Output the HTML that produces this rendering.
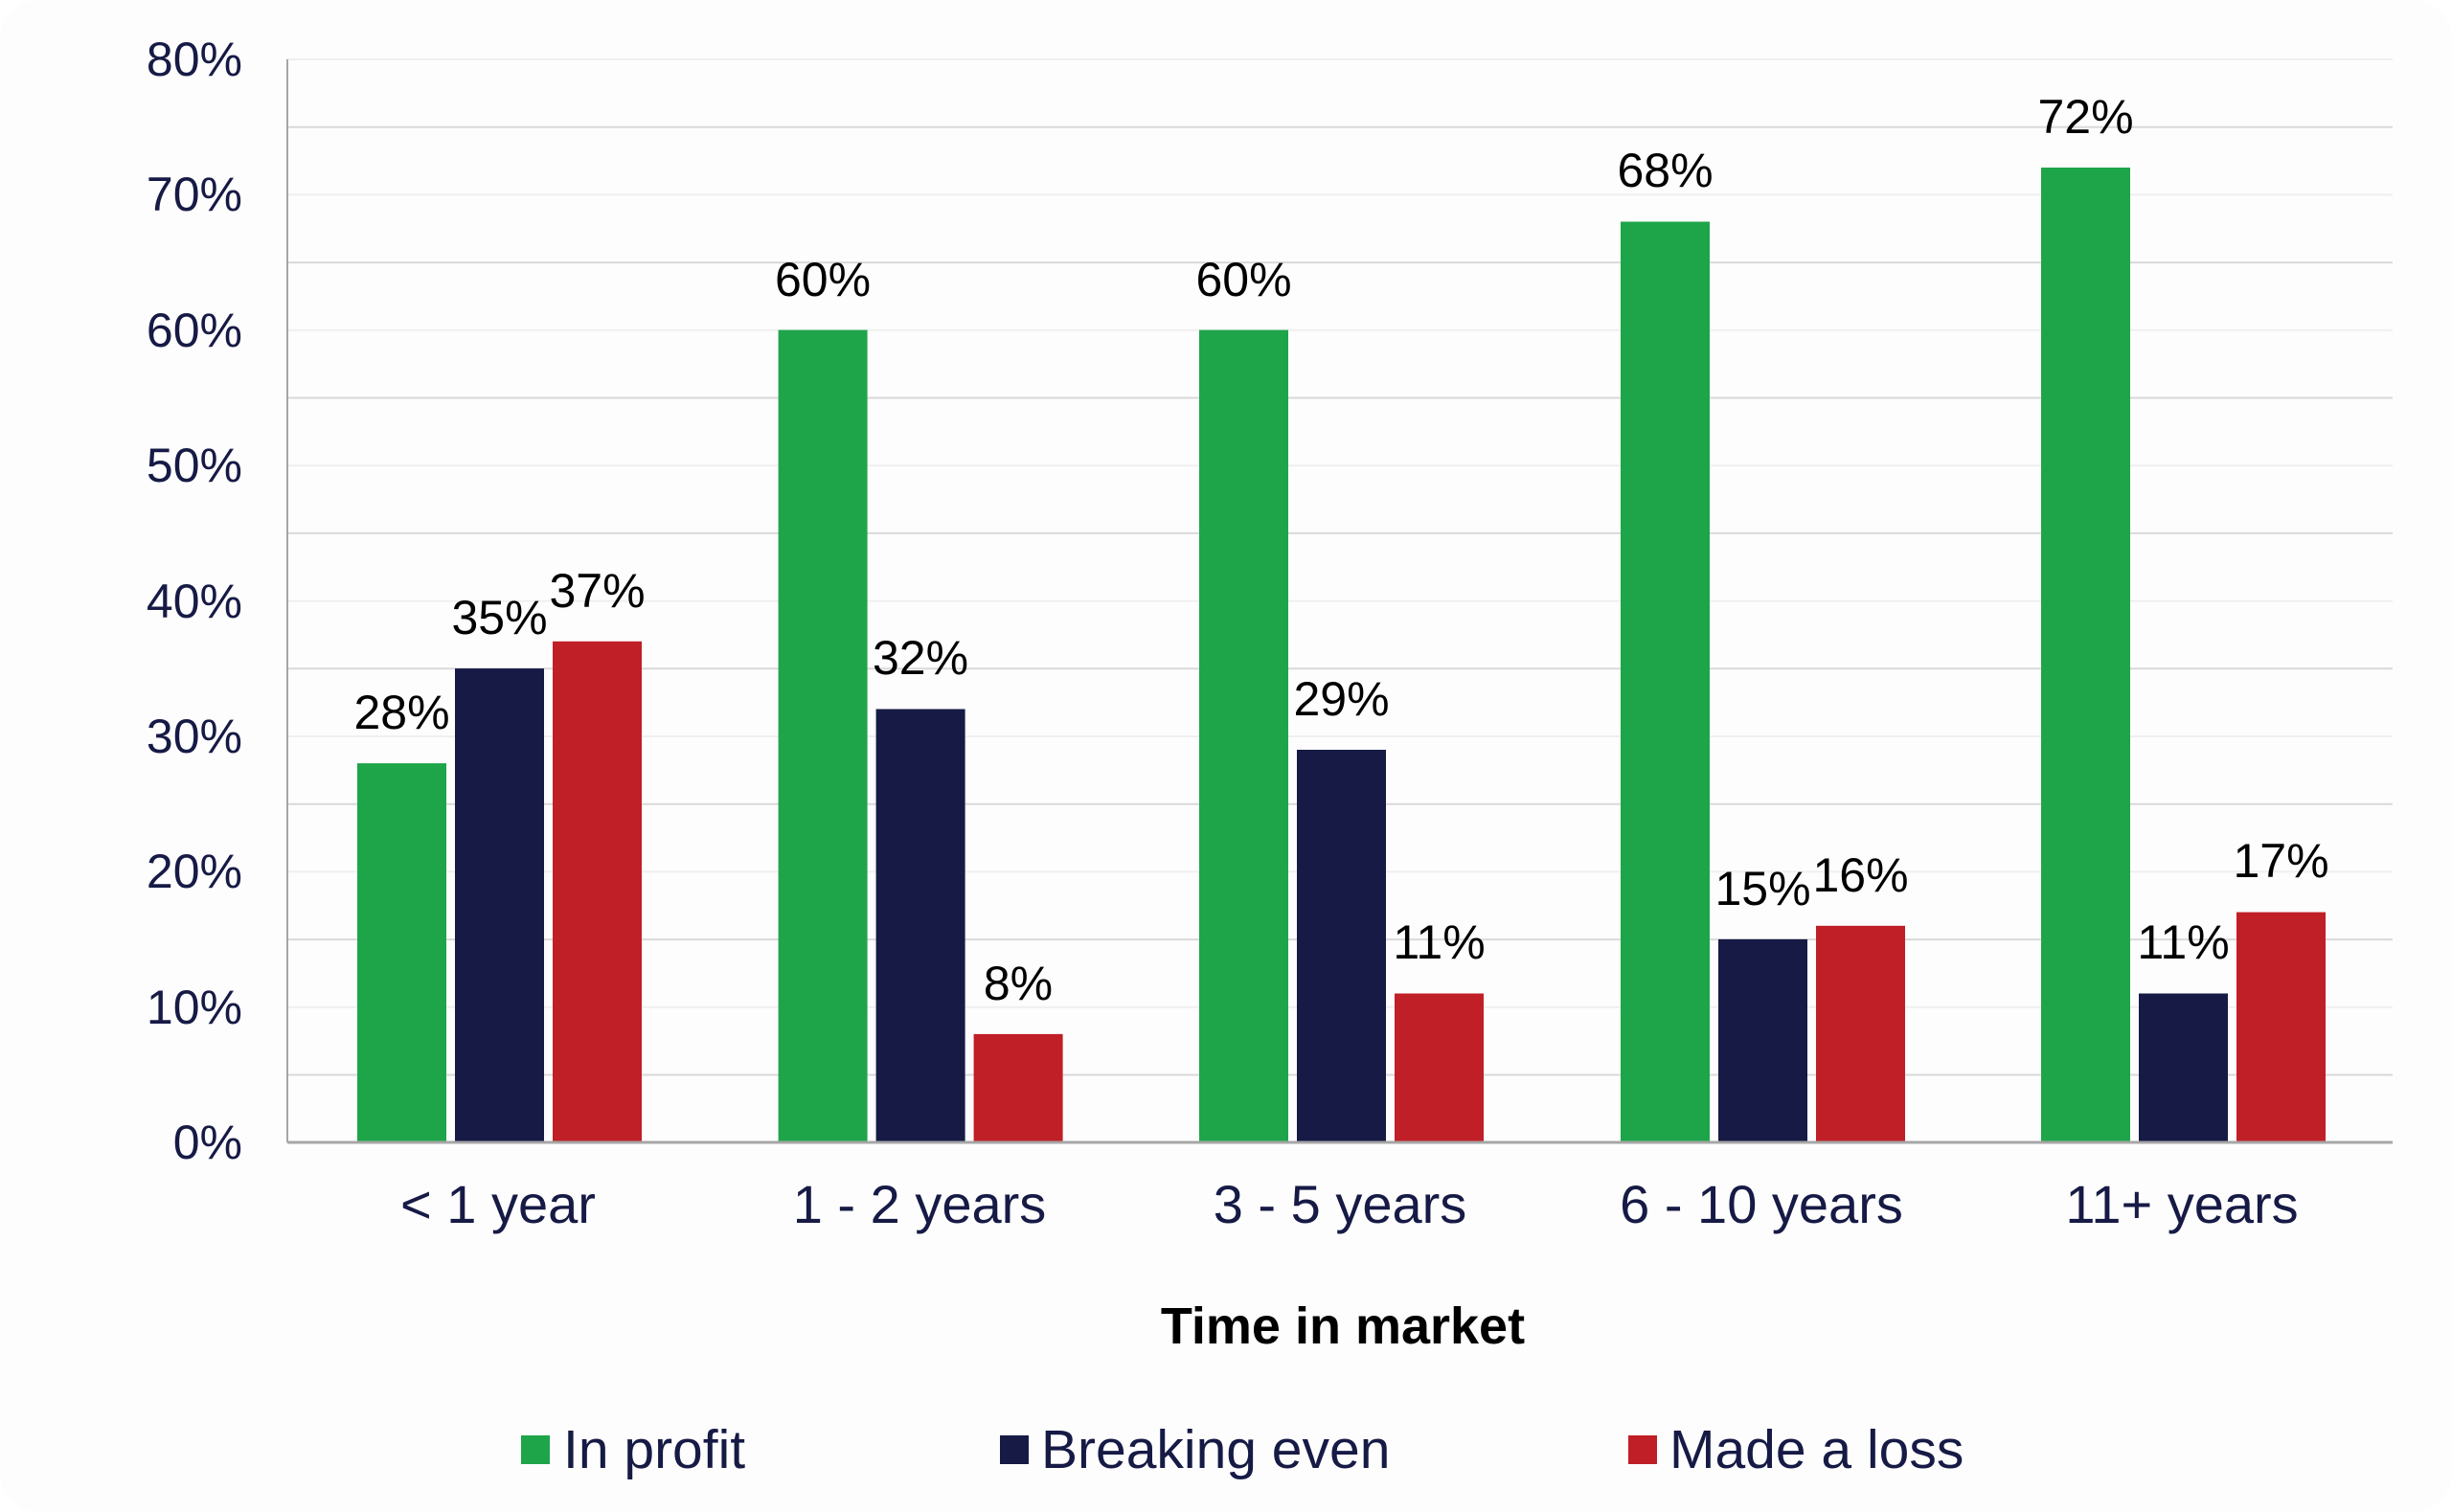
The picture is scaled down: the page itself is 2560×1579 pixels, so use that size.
<!DOCTYPE html>
<html><head><meta charset="utf-8"><style>
html,body{margin:0;padding:0;background:#fff}
svg{display:block}
text{font-family:"Liberation Sans",Arial,sans-serif}
</style></head><body>
<svg width="2560" height="1579" viewBox="0 0 2560 1579" xmlns="http://www.w3.org/2000/svg">
<rect x="0" y="0" width="2560" height="1579" rx="40" fill="#fdfdfd"/>
<g stroke-width="2">
<line x1="300" x2="2498" y1="62" y2="62" stroke="#efefef"/>
<line x1="300" x2="2498" y1="132.7" y2="132.7" stroke="#d9d9d9"/>
<line x1="300" x2="2498" y1="203.4" y2="203.4" stroke="#efefef"/>
<line x1="300" x2="2498" y1="274.1" y2="274.1" stroke="#d9d9d9"/>
<line x1="300" x2="2498" y1="344.8" y2="344.8" stroke="#efefef"/>
<line x1="300" x2="2498" y1="415.5" y2="415.5" stroke="#d9d9d9"/>
<line x1="300" x2="2498" y1="486.2" y2="486.2" stroke="#efefef"/>
<line x1="300" x2="2498" y1="556.9" y2="556.9" stroke="#d9d9d9"/>
<line x1="300" x2="2498" y1="627.6" y2="627.6" stroke="#efefef"/>
<line x1="300" x2="2498" y1="698.3" y2="698.3" stroke="#d9d9d9"/>
<line x1="300" x2="2498" y1="769" y2="769" stroke="#efefef"/>
<line x1="300" x2="2498" y1="839.7" y2="839.7" stroke="#d9d9d9"/>
<line x1="300" x2="2498" y1="910.4" y2="910.4" stroke="#efefef"/>
<line x1="300" x2="2498" y1="981.1" y2="981.1" stroke="#d9d9d9"/>
<line x1="300" x2="2498" y1="1051.8" y2="1051.8" stroke="#efefef"/>
<line x1="300" x2="2498" y1="1122.5" y2="1122.5" stroke="#d9d9d9"/>
</g>
<line x1="300" x2="300" y1="62" y2="1193" stroke="#a6a6a6" stroke-width="2"/>
<g font-size="50" fill="#161a45" text-anchor="end">
<text x="253" y="79">80%</text><text x="253" y="220">70%</text><text x="253" y="362">60%</text>
<text x="253" y="503">50%</text><text x="253" y="645">40%</text><text x="253" y="786">30%</text>
<text x="253" y="927">20%</text><text x="253" y="1069">10%</text><text x="253" y="1210">0%</text>
</g>
<g>
<rect x="373" y="797.1" width="93" height="395.9" fill="#1ea54a"/>
<rect x="475" y="698.1" width="93" height="494.9" fill="#161a45"/>
<rect x="577" y="669.8" width="93" height="523.2" fill="#c01f27"/>

<rect x="812.6" y="344.6" width="93" height="848.4" fill="#1ea54a"/>
<rect x="914.6" y="740.5" width="93" height="452.5" fill="#161a45"/>
<rect x="1016.6" y="1079.9" width="93" height="113.1" fill="#c01f27"/>

<rect x="1252" y="344.6" width="93" height="848.4" fill="#1ea54a"/>
<rect x="1354" y="783" width="93" height="410" fill="#161a45"/>
<rect x="1456" y="1037.5" width="93" height="155.5" fill="#c01f27"/>

<rect x="1692" y="231.5" width="93" height="961.5" fill="#1ea54a"/>
<rect x="1794" y="980.9" width="93" height="212.1" fill="#161a45"/>
<rect x="1896" y="966.8" width="93" height="226.2" fill="#c01f27"/>

<rect x="2131" y="175" width="93" height="1018" fill="#1ea54a"/>
<rect x="2233" y="1037.5" width="93" height="155.5" fill="#161a45"/>
<rect x="2335" y="952.6" width="93" height="240.4" fill="#c01f27"/>
</g>
<line x1="300" x2="2498" y1="1193" y2="1193" stroke="#a6a6a6" stroke-width="3"/>
<g font-size="50" fill="#000" text-anchor="middle">
<text x="419.5" y="761">28%</text><text x="521.5" y="662">35%</text><text x="623.5" y="634">37%</text>
<text x="859" y="309">60%</text><text x="961" y="704">32%</text><text x="1063" y="1044">8%</text>
<text x="1298.5" y="309">60%</text><text x="1400.5" y="747">29%</text><text x="1502.5" y="1001">11%</text>
<text x="1738.5" y="195">68%</text><text x="1840.5" y="945">15%</text><text x="1942.5" y="931">16%</text>
<text x="2177.5" y="139">72%</text><text x="2279.5" y="1001">11%</text><text x="2381.5" y="916">17%</text>
</g>
<g font-size="56" fill="#161a45" text-anchor="middle">
<text x="520" y="1277">&lt; 1 year</text><text x="960" y="1277">1 - 2 years</text>
<text x="1399" y="1277">3 - 5 years</text><text x="1839" y="1277">6 - 10 years</text>
<text x="2278" y="1277">11+ years</text>
</g>
<text x="1402" y="1403" font-size="54" font-weight="bold" fill="#000" text-anchor="middle">Time in market</text>
<g font-size="57" fill="#161a45">
<rect x="544" y="1499" width="30" height="30" fill="#1ea54a"/><text x="588" y="1533">In profit</text>
<rect x="1044" y="1499" width="30" height="30" fill="#161a45"/><text x="1087" y="1533">Breaking even</text>
<rect x="1700" y="1499" width="30" height="30" fill="#c01f27"/><text x="1743" y="1533">Made a loss</text>
</g>
</svg>
</body></html>
